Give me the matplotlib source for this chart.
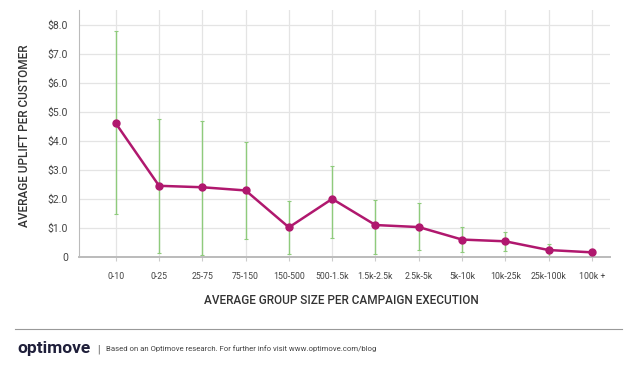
import matplotlib
matplotlib.use('Agg')
import matplotlib.pyplot as plt
import numpy as np

plt.rcParams['font.family'] = ['Roboto', 'DejaVu Sans']

# data
groups = ['0-10', '0-25', '25-75', '75-150', '150-500', '500-1.5k', '1.5k-2.5k',
          '2.5k-5k', '5k-10k', '10k-25k', '25k-100k', '100k +']
uplift = [4.60, 2.45, 2.40, 2.29, 1.02, 2.00, 1.10, 1.03, 0.60, 0.54, 0.24, 0.16]
err_hi = [7.77, 4.76, 4.67, 3.95, 1.94, 3.14, 1.95, 1.85, 1.03, 0.85, 0.44, 0.16]
err_lo = [1.47, 0.15, 0.07, 0.61, 0.09, 0.66, 0.09, 0.23, 0.17, 0.22, 0.05, 0.16]
yticks = [0, 1, 2, 3, 4, 5, 6, 7, 8]
ytick_labels = ['0'] + [f'${v:.1f}' for v in yticks[1:]]

LINE = '#b0186e'; ERR = '#8fcb7c'; GRID = '#e4e4e4'; TXT = '#444444'

fig = plt.figure(figsize=(6.3, 3.66), dpi=100)
ax = fig.add_axes([79/630, 1 - 257/366, (610-79)/630, (257-10)/366])
x = np.arange(len(groups))
up = np.array(uplift)
yerr = [up - np.array(err_lo), np.array(err_hi) - up]
ax.errorbar(x, up, yerr=yerr, fmt='none', ecolor=ERR, elinewidth=1.0, capsize=1.5, capthick=0.8, zorder=2)
ax.plot(x, up, color=LINE, linewidth=1.8, marker='o', markersize=5, zorder=3)

ax.set_xlim(-0.85, 11.42); ax.set_ylim(0, 8.5)
ax.set_xticks(x); ax.set_xticklabels(groups, fontsize=6.3, color=TXT)
ax.set_yticks(yticks); ax.set_yticklabels(ytick_labels, fontsize=7.5, color=TXT)
ax.grid(True, color=GRID, linewidth=0.9); ax.set_axisbelow(True)
ax.tick_params(axis='x', length=3, color='#cccccc', pad=8)
ax.tick_params(axis='y', length=0, pad=8)
for s in ['top', 'right']: ax.spines[s].set_visible(False)
ax.spines['left'].set_color('#bbbbbb'); ax.spines['bottom'].set_color('#bbbbbb')
ax.spines['bottom'].set_linewidth(1.4)

fig.text(25/630, 1 - 136/366, 'AVERAGE UPLIFT PER CUSTOMER', rotation=90, ha='center', va='center',
         fontsize=8.5, fontweight='medium', color='#333333')
fig.text(341/630, 1 - 301/366, 'AVERAGE GROUP SIZE PER CAMPAIGN EXECUTION', ha='center', va='center',
         fontsize=8.5, fontweight='medium', color='#333333')

# footer
fig.add_artist(plt.Line2D([15/630, 622/630], [1 - 329/366]*2, color='#999999', linewidth=0.8))
fig.text(17/630, 1 - 349/366, 'optimove', ha='left', va='center', fontsize=12.5, fontweight='bold', color='#1f1f3a')
fig.text(97/630, 1 - 349/366, '|', ha='left', va='center', fontsize=7, color='#555555')
fig.text(106/630, 1 - 349/366, 'Based on an Optimove research. For further info visit www.optimove.com/blog',
         ha='left', va='center', fontsize=5.6, color='#444444')

fig.savefig('out.png', dpi=100)
